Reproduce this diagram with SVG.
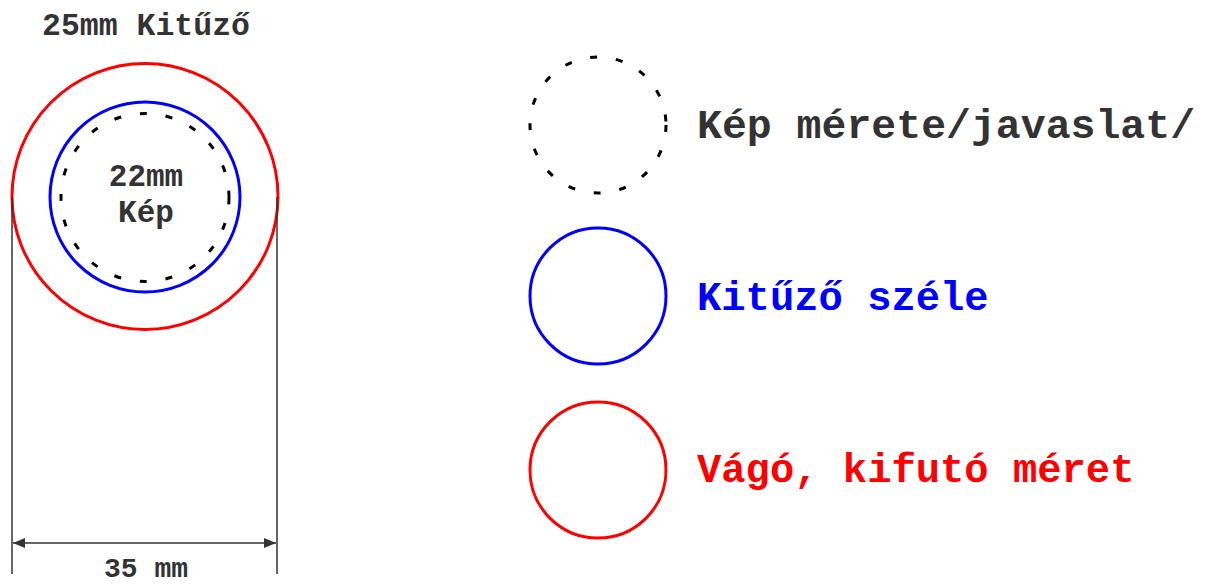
<svg xmlns="http://www.w3.org/2000/svg" width="1213" height="584" viewBox="0 0 1213 584">
<style>
.t{font-family:"Liberation Mono","Courier New",monospace;font-weight:bold;}
.red{fill:none;stroke:#ff0000;stroke-width:3;}
.blue{fill:none;stroke:#0000ff;stroke-width:3;}
.dash{fill:none;stroke:#000;stroke-width:3;stroke-dasharray:7 19;}
.dim{stroke:#333;stroke-width:1.5;fill:none;}
</style>
<defs>
<marker id="ah" viewBox="0 0 12 10" refX="12" refY="5" markerWidth="12" markerHeight="10" markerUnits="userSpaceOnUse" orient="auto-start-reverse">
<path d="M0,0 L12,5 L0,10 Z" fill="#333"/>
</marker>
</defs>
<rect width="1213" height="584" fill="#fff"/>
<g id="badge">
<text class="t" x="146" y="35" font-size="31.5" fill="#333" text-anchor="middle">25mm Kitűző</text>
<circle class="red" cx="145" cy="196.5" r="133"/>
<circle class="blue" cx="145" cy="197" r="95"/>
<circle class="dash" cx="145" cy="197.5" r="84"/>
<text class="t" x="146" y="186" font-size="31" fill="#333" text-anchor="middle">22mm</text>
<text class="t" x="146" y="222" font-size="31" fill="#333" text-anchor="middle">Kép</text>
</g>
<g id="connectors">
<line class="dim" x1="12" y1="197" x2="12" y2="574"/>
<line class="dim" x1="277" y1="197" x2="277" y2="574"/>
<line class="dim" x1="13" y1="543" x2="276" y2="543" marker-start="url(#ah)" marker-end="url(#ah)"/>
<text class="t" x="146" y="577" font-size="28" fill="#333" text-anchor="middle">35 mm</text>
</g>
<g id="legend-image">
<circle class="dash" cx="598" cy="125" r="68"/>
<text class="t" x="697" y="138" font-size="41.5" fill="#333">Kép mérete/javaslat/</text>
</g>
<g id="legend-edge">
<circle class="blue" cx="598" cy="296" r="68"/>
<text class="t" x="697" y="310" font-size="40.5" fill="#0000ff">Kitűző széle</text>
</g>
<g id="legend-cut">
<circle class="red" cx="598" cy="470" r="68"/>
<text class="t" x="697" y="482" font-size="40.5" fill="#ff0000">Vágó, kifutó méret</text>
</g>
</svg>
